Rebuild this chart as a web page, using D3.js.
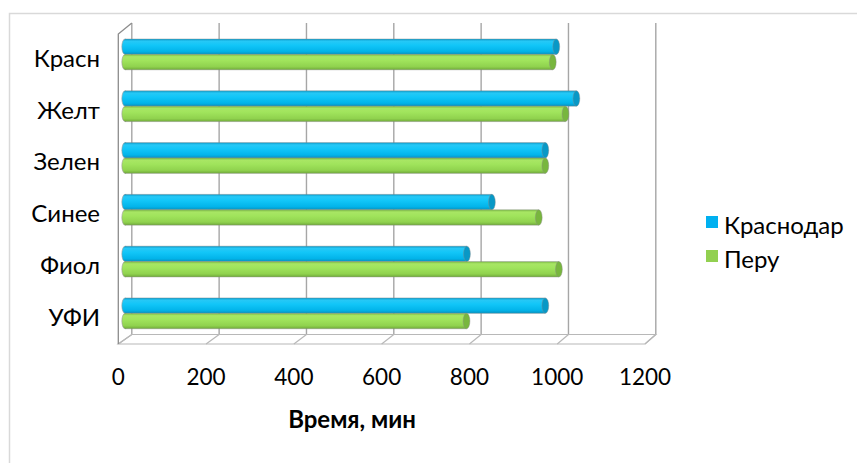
<!DOCTYPE html>
<html>
<head>
<meta charset="utf-8">
<script src="https://cdn.jsdelivr.net/npm/d3@7"></script>
<style>
  html, body { margin: 0; padding: 0; background: #fff; }
  svg { display: block; font-family: Lato, "Open Sans", sans-serif; }
</style>
</head>
<body>
<svg id="chart" width="857" height="463"></svg>
<script>
// Categories (top to bottom) and the two series, minutes
const categories = ["Красн", "Желт", "Зелен", "Синее", "Фиол", "УФИ"];
const seriesNames = ["Краснодар", "Перу"];
const krasnodar = [985, 1031, 960, 838, 781, 960];
const peru = [977, 1006, 960, 945, 991, 780];
const xTicks = [0, 200, 400, 600, 800, 1000, 1200];
const axisTitle = "Время, мин";

const svg = d3.select("#chart");
const defs = svg.append("defs");

// Chart area frame
svg.append("rect")
  .attr("x", 9.5).attr("y", 13.5)
  .attr("width", 870).attr("height", 470)
  .attr("fill", "#fff").attr("stroke", "#d9d9d9").attr("stroke-width", 1.5);

// 3D box: back wall, front edge and mid-depth (where the bars sit)
const xBack = d3.scaleLinear().domain([0, 1200]).range([131.8, 655.8]);
const xFront = d3.scaleLinear().domain([0, 1200]).range([118.3, 645]);
const xMid = d3.scaleLinear().domain([0, 1200])
  .range([(xBack(0) + xFront(0)) / 2, (xBack(1200) + xFront(1200)) / 2]);
const backTop = 23, backBottom = 334.5, frontTop = 34, frontBottom = 344;
const midTop = (backTop + frontTop) / 2, midBottom = (backBottom + frontBottom) / 2;

const y = d3.scaleBand().domain(categories).range([midTop, midBottom]).paddingInner(0).paddingOuter(0);
const barH = 15.4;

const gridColor = "#a6a6a6";
const grid = svg.append("g");

// Back-wall gridlines
grid.selectAll("line.back").data(xTicks).join("line")
  .attr("class", "back")
  .attr("x1", d => xBack(d)).attr("x2", d => xBack(d))
  .attr("y1", backTop).attr("y2", backBottom)
  .attr("stroke", gridColor).attr("stroke-width", 1.4);

// Floor
grid.append("path")
  .attr("d", `M${xBack(0)},${backBottom} L${xBack(1200)},${backBottom} L${xFront(1200)},${frontBottom} L${xFront(0)},${frontBottom} Z`)
  .attr("fill", "#fff").attr("stroke", "#b8b8b8").attr("stroke-width", 1.2);
grid.selectAll("line.floor").data(xTicks).join("line")
  .attr("class", "floor")
  .attr("x1", d => xBack(d)).attr("x2", d => xFront(d))
  .attr("y1", backBottom).attr("y2", frontBottom)
  .attr("stroke", "#b8b8b8").attr("stroke-width", 1.2);

// Left side wall edges
grid.append("path")
  .attr("d", `M${xFront(0)},${frontBottom} L${xFront(0)},${frontTop} L${xBack(0)},${backTop}`)
  .attr("fill", "none").attr("stroke", "#8c8c8c").attr("stroke-width", 1.3);

// Cylinder shading
function cylGradient(id, stops) {
  const g = defs.append("linearGradient").attr("id", id)
    .attr("x1", 0).attr("y1", 0).attr("x2", 0).attr("y2", 1);
  stops.forEach(([o, c]) => g.append("stop").attr("offset", o).attr("stop-color", c));
}
cylGradient("gBlue", [[0, "#0a9ccc"], [0.15, "#26c8f6"], [0.4, "#12c6f8"], [0.8, "#02b4ea"], [1, "#0892c0"]]);
cylGradient("gGreen", [[0, "#7cbc44"], [0.15, "#a8e664"], [0.4, "#a0e45c"], [0.8, "#90d24e"], [1, "#70aa3a"]]);

const series = [
  { name: seriesNames[0], values: krasnodar, fill: "url(#gBlue)", cap: "#0898c6", key: "#00b0f0", off: -barH / 2 },
  { name: seriesNames[1], values: peru, fill: "url(#gGreen)", cap: "#78b63e", key: "#92d050", off: barH / 2 }
];

const bars = svg.append("g");
series.forEach(s => {
  const g = bars.append("g");
  const data = categories.map((c, i) => ({ c, v: s.values[i] }));
  const cy = d => y(d.c) + y.bandwidth() / 2 + s.off;
  // left cap
  g.selectAll("ellipse.l").data(data).join("ellipse")
    .attr("cx", xMid(0)).attr("cy", cy)
    .attr("rx", 3.2).attr("ry", barH / 2)
    .attr("fill", s.fill).attr("stroke", "#9a9a9a").attr("stroke-width", 0.6);
  // body
  g.selectAll("rect").data(data).join("rect")
    .attr("x", xMid(0)).attr("y", d => cy(d) - barH / 2)
    .attr("width", d => xMid(d.v) - xMid(0)).attr("height", barH)
    .attr("fill", s.fill);
  g.selectAll("path.edge").data(data).join("path")
    .attr("class", "edge")
    .attr("d", d => `M${xMid(0)},${cy(d) - barH / 2} H${xMid(d.v)} M${xMid(0)},${cy(d) + barH / 2} H${xMid(d.v)}`)
    .attr("stroke", "#8a8a8a").attr("stroke-opacity", 0.6).attr("stroke-width", 0.7);
  // right cap
  g.selectAll("ellipse.r").data(data).join("ellipse")
    .attr("class", "r")
    .attr("cx", d => xMid(d.v)).attr("cy", cy)
    .attr("rx", 3.4).attr("ry", barH / 2)
    .attr("fill", s.cap).attr("stroke", "#8a8a8a").attr("stroke-opacity", 0.6).attr("stroke-width", 0.7);
});

// Category labels
svg.append("g").selectAll("text").data(categories).join("text")
  .attr("x", 100).attr("y", d => y(d) + y.bandwidth() / 2 + 3)
  .attr("text-anchor", "end").attr("dominant-baseline", "central")
  .attr("font-size", 24).attr("fill", "#000")
  .text(d => d);

// Value axis labels
svg.append("g").selectAll("text").data(xTicks).join("text")
  .attr("x", d => xFront(d)).attr("y", 376)
  .attr("text-anchor", "middle").attr("dominant-baseline", "central")
  .attr("font-size", 22.5).attr("fill", "#000")
  .text(d => d);

// Axis title
svg.append("text")
  .attr("x", 352).attr("y", 418)
  .attr("text-anchor", "middle").attr("dominant-baseline", "central")
  .attr("font-size", 24).attr("font-weight", "bold").attr("fill", "#000")
  .text(axisTitle);

// Legend
const legend = svg.append("g");
series.forEach((s, i) => {
  const ly = 222 + i * 34;
  legend.append("rect").attr("x", 706).attr("y", ly - 6).attr("width", 12).attr("height", 12)
    .attr("fill", s.key);
  legend.append("text").attr("x", 724).attr("y", ly + 2)
    .attr("dominant-baseline", "central").attr("font-size", 24).attr("fill", "#000")
    .text(s.name);
});
</script>
</body>
</html>
